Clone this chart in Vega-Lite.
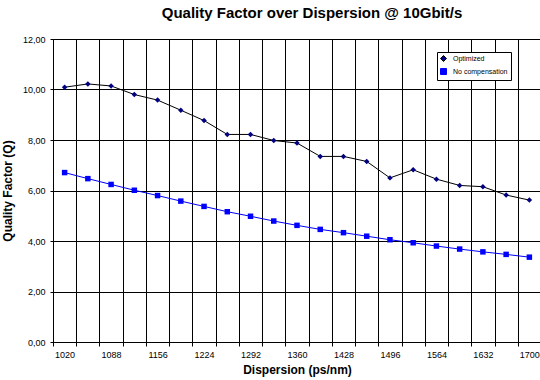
{
  "$schema": "https://vega.github.io/schema/vega-lite/v6.json",
  "autosize": {"type": "none"},
  "padding": {"left": 53, "top": 39, "right": 0, "bottom": 38},
  "width": 488,
  "height": 303,
  "background": "white",
  "title": {
    "text": "Quality Factor over Dispersion @ 10Gbit/s",
    "font": "Liberation Sans",
    "fontSize": 15,
    "fontWeight": "bold",
    "color": "#000000",
    "anchor": "middle",
    "dx": 15,
    "offset": 14
  },
  "config": {
    "font": "Liberation Sans",
    "view": {"stroke": "#000000", "strokeWidth": 1}
  },
  "data": {
    "values": [
      {"d": 1020, "series": "Optimized", "q": 10.09},
      {"d": 1054, "series": "Optimized", "q": 10.22},
      {"d": 1088, "series": "Optimized", "q": 10.14},
      {"d": 1122, "series": "Optimized", "q": 9.80},
      {"d": 1156, "series": "Optimized", "q": 9.58},
      {"d": 1190, "series": "Optimized", "q": 9.18},
      {"d": 1224, "series": "Optimized", "q": 8.77},
      {"d": 1258, "series": "Optimized", "q": 8.22},
      {"d": 1292, "series": "Optimized", "q": 8.22},
      {"d": 1326, "series": "Optimized", "q": 7.98},
      {"d": 1360, "series": "Optimized", "q": 7.88},
      {"d": 1394, "series": "Optimized", "q": 7.35},
      {"d": 1428, "series": "Optimized", "q": 7.35},
      {"d": 1462, "series": "Optimized", "q": 7.15},
      {"d": 1496, "series": "Optimized", "q": 6.50},
      {"d": 1530, "series": "Optimized", "q": 6.82},
      {"d": 1564, "series": "Optimized", "q": 6.45},
      {"d": 1598, "series": "Optimized", "q": 6.20},
      {"d": 1632, "series": "Optimized", "q": 6.15},
      {"d": 1666, "series": "Optimized", "q": 5.82},
      {"d": 1700, "series": "Optimized", "q": 5.62},
      {"d": 1020, "series": "No compensation", "q": 6.71},
      {"d": 1054, "series": "No compensation", "q": 6.47},
      {"d": 1088, "series": "No compensation", "q": 6.24},
      {"d": 1122, "series": "No compensation", "q": 6.01},
      {"d": 1156, "series": "No compensation", "q": 5.80},
      {"d": 1190, "series": "No compensation", "q": 5.58},
      {"d": 1224, "series": "No compensation", "q": 5.37},
      {"d": 1258, "series": "No compensation", "q": 5.16},
      {"d": 1292, "series": "No compensation", "q": 4.98},
      {"d": 1326, "series": "No compensation", "q": 4.79},
      {"d": 1360, "series": "No compensation", "q": 4.62},
      {"d": 1394, "series": "No compensation", "q": 4.46},
      {"d": 1428, "series": "No compensation", "q": 4.33},
      {"d": 1462, "series": "No compensation", "q": 4.19},
      {"d": 1496, "series": "No compensation", "q": 4.05},
      {"d": 1530, "series": "No compensation", "q": 3.93},
      {"d": 1564, "series": "No compensation", "q": 3.80},
      {"d": 1598, "series": "No compensation", "q": 3.68},
      {"d": 1632, "series": "No compensation", "q": 3.57},
      {"d": 1666, "series": "No compensation", "q": 3.47},
      {"d": 1700, "series": "No compensation", "q": 3.36}
    ]
  },
  "encoding": {
    "x": {
      "field": "d",
      "type": "quantitative",
      "scale": {"domain": [1003, 1717], "nice": false, "zero": false},
      "axis": {
        "title": "Dispersion (ps/nm)",
        "titleFontSize": 12,
        "titleFontWeight": "bold",
        "titleColor": "#000000",
        "titlePadding": 5,
        "values": [1003, 1037, 1071, 1105, 1139, 1173, 1207, 1241, 1275, 1309, 1343, 1377, 1411, 1445, 1479, 1513, 1547, 1581, 1615, 1649, 1683, 1717],
        "labelExpr": "(datum.value - 1003) % 68 == 0 ? '' + (datum.value + 17) : ''",
        "labelOffset": 11.6,
        "labelFlush": false,
        "labelOverlap": false,
        "labelFontSize": 9,
        "labelColor": "#000000",
        "labelPadding": 4,
        "grid": true,
        "gridColor": "#000000",
        "gridOpacity": 1,
        "gridWidth": 1,
        "domainColor": "#000000",
        "tickColor": "#000000",
        "tickSize": 4
      }
    },
    "y": {
      "field": "q",
      "type": "quantitative",
      "scale": {"domain": [0, 12], "nice": false},
      "axis": {
        "title": "Quality Factor (Q)",
        "titleFontSize": 12,
        "titleFontWeight": "bold",
        "titleColor": "#000000",
        "titlePadding": 8,
        "values": [0, 2, 4, 6, 8, 10, 12],
        "labelExpr": "replace(format(datum.value, '.2f'), '.', ',')",
        "labelFontSize": 9,
        "labelColor": "#000000",
        "labelPadding": 5,
        "grid": true,
        "gridColor": "#000000",
        "gridOpacity": 1,
        "gridWidth": 1,
        "domainColor": "#000000",
        "tickColor": "#000000",
        "tickSize": 3
      }
    }
  },
  "layer": [
    {
      "mark": {"type": "line", "strokeWidth": 1},
      "encoding": {
        "stroke": {
          "field": "series",
          "type": "nominal",
          "scale": {"domain": ["Optimized", "No compensation"], "range": ["#000000", "#0000FF"]}
        },
        "detail": {"field": "series"}
      }
    },
    {
      "mark": {"type": "point", "filled": true, "size": 30, "opacity": 1, "strokeWidth": 0},
      "encoding": {
        "fill": {
          "field": "series",
          "type": "nominal",
          "scale": {"domain": ["Optimized", "No compensation"], "range": ["#000080", "#0000FF"]},
          "legend": {
            "title": null,
            "orient": "none",
            "legendX": 384,
            "legendY": 13,
            "fillColor": "#FFFFFF",
            "strokeColor": "#000000",
            "padding": 3,
            "rowPadding": 2,
            "labelFontSize": 7,
            "labelColor": "#000000",
            "labelOffset": 6,
            "symbolSize": 36,
            "symbolStrokeWidth": 1
          }
        },
        "shape": {
          "field": "series",
          "type": "nominal",
          "scale": {"domain": ["Optimized", "No compensation"], "range": ["diamond", "square"]}
        }
      }
    }
  ]
}
